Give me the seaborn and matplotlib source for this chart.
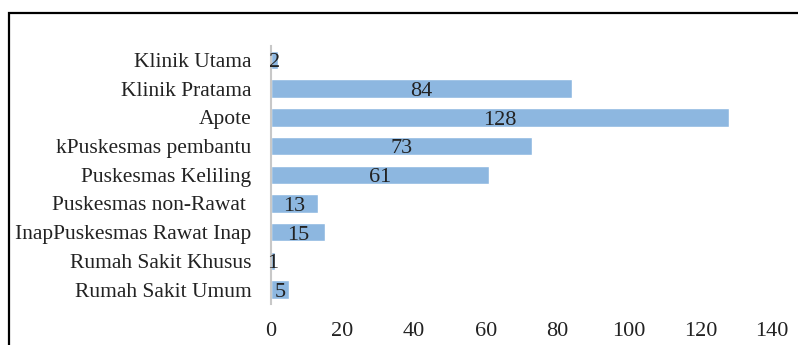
import matplotlib
matplotlib.use("Agg")
import matplotlib.pyplot as plt
import seaborn as sns
import pandas as pd
from matplotlib.patches import Rectangle

categories = ["Klinik Utama", "Klinik Pratama", "Apote", "kPuskesmas pembantu",
              "Puskesmas Keliling", "Puskesmas non-Rawat ", "InapPuskesmas Rawat Inap",
              "Rumah Sakit Khusus", "Rumah Sakit Umum"]
values = [2, 84, 128, 73, 61, 13, 15, 1, 5]
xticks = [0, 20, 40, 60, 80, 100, 120, 140]

df = pd.DataFrame({"cat": categories, "val": values})

sns.set_theme(style="white")
plt.rcParams["font.family"] = ["Liberation Serif", "DejaVu Serif"]

fig = plt.figure(figsize=(7.98, 3.45), dpi=100)
ax = fig.add_axes([0.3396, 0.119, 0.9674 - 0.3396, 0.868 - 0.119])

sns.barplot(data=df, y="cat", x="val", orient="h", color="#8DB7E0",
            saturation=1, width=0.64, ax=ax)

for p, v in zip(ax.patches, values):
    cx = p.get_x() + p.get_width() / 2
    cy = p.get_y() + p.get_height() / 2
    ax.text(cx, cy + 0.1, str(v), ha="center", va="center", fontsize=16, color="#222222")

ax.set_xlim(0, 140)
ax.set_xticks(xticks)
ax.set_xticklabels([str(t) for t in xticks])
ax.set_xlabel("")
ax.set_ylabel("")
ax.tick_params(axis="both", length=0, colors="#222222")
ax.tick_params(axis="y", pad=14, labelsize=15.5)
ax.tick_params(axis="x", pad=13, labelsize=16)
for s in ["top", "right", "bottom"]:
    ax.spines[s].set_visible(False)
ax.spines["left"].set_color("#c8c8c8")
ax.spines["left"].set_linewidth(1.5)
ax.grid(False)

frame = Rectangle((9 / 798, -0.2), 1.2, (1 - 13 / 345) + 0.2,
                  transform=fig.transFigure, fill=False, edgecolor="black",
                  linewidth=1.6, clip_on=False)
fig.patches.append(frame)

fig.savefig("out.png", dpi=100)
